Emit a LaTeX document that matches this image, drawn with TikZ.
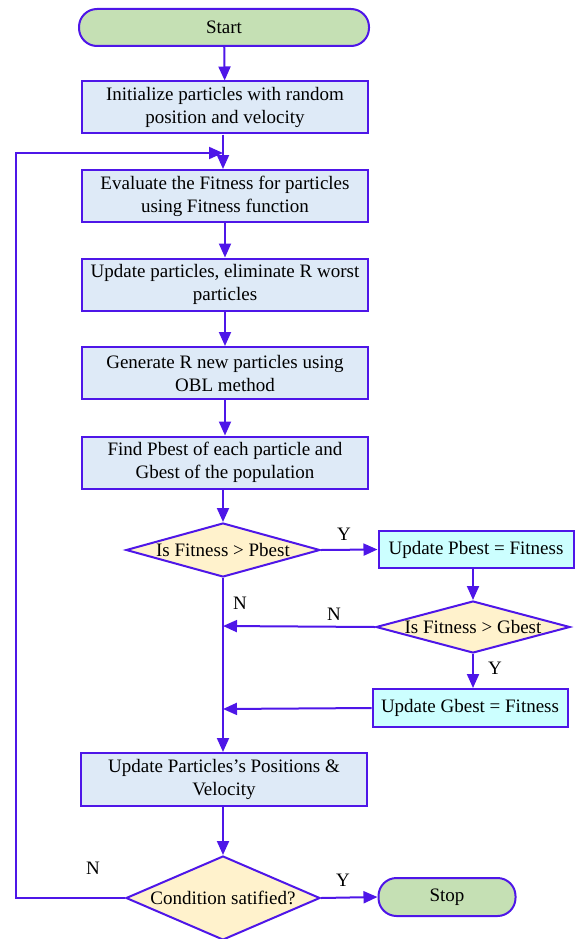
\documentclass[tikz,border=0pt]{standalone}
\usepackage{fontspec}
\setmainfont{Liberation Serif}
\newfontfamily\tnr{Liberation Serif}
\usetikzlibrary{arrows.meta,shapes.geometric}
\definecolor{ln}{RGB}{78,22,232}
\definecolor{bfill}{RGB}{222,234,247}
\definecolor{cfill}{RGB}{204,255,255}
\definecolor{dfill}{RGB}{255,242,204}
\definecolor{gfill}{RGB}{197,224,180}
\tikzset{
  base/.style={draw=ln, line width=2pt, font=\tnr\fontsize{19}{23}\selectfont, align=center, inner sep=0pt},
  procbox/.style={base, rectangle, fill=bfill, minimum width=286pt, minimum height=52pt},
  cyanbox/.style={base, rectangle, fill=cfill, minimum width=195pt, minimum height=37pt},
  termbox/.style={base, rectangle, rounded corners=18pt, fill=gfill},
  decbox/.style={base, diamond, fill=dfill, aspect=3.6},
  arr/.style={draw=ln, line width=2pt, -{Triangle[length=14pt,width=12pt]}},
  lbl/.style={font=\tnr\fontsize{19}{23}\selectfont, inner sep=0pt}
}
\begin{document}
\begin{tikzpicture}[x=1pt,y=-1pt]
\useasboundingbox (0,0) rectangle (574,939);
\node[termbox, minimum width=290pt, minimum height=37pt] (start) at (224,27.5) {Start};
\node[procbox] (init) at (225,107.5) {Initialize particles with random\\position and velocity};
\node[procbox] (eval) at (225,196) {Evaluate the Fitness for particles\\using Fitness function};
\node[procbox] (upd) at (225,284.5) {Update particles, eliminate R worst\\particles};
\node[procbox] (gen) at (225,373) {Generate R new particles using\\OBL method};
\node[procbox] (find) at (225,462.5) {Find Pbest of each particle and\\Gbest of the population};
\node[decbox, minimum width=194pt, minimum height=54pt] (dp) at (223,550) {\makebox[0pt]{Is Fitness > Pbest}};
\node[cyanbox] (up) at (476,549.5) {Update Pbest = Fitness};
\node[decbox, minimum width=194pt, minimum height=52pt] (dg) at (473,627) {\makebox[0pt]{Is Fitness > Gbest}};
\node[cyanbox, minimum height=38pt] (ug) at (470,708) {Update Gbest = Fitness};
\node[procbox, minimum height=53pt] (pos) at (224,779.5) {Update Particles’s Positions \&\\Velocity};
\node[decbox, minimum width=194pt, minimum height=84pt] (cond) at (223,898) {\makebox[0pt]{Condition satified?}};
\node[termbox, minimum width=137pt, minimum height=38pt] (stop) at (447,897) {Stop};

\coordinate (j1) at (223,153);
\coordinate (c1) at (16,898);
\coordinate (c2) at (16,153);
\coordinate (m1) at (223,626);
\coordinate (m2) at (223,709);

\draw[arr] (start) -- (init);
\draw[arr] (init.south -| j1) -- (eval.north -| j1);
\draw[arr] (eval) -- (upd);
\draw[arr] (upd) -- (gen);
\draw[arr] (gen) -- (find);
\draw[arr] (find.south -| dp) -- (dp.north);
\draw[arr] (dp.east) -- (up.west);
\draw[arr] (up.south -| dg) -- (dg.north);
\draw[arr] (dg.west) -- (m1);
\draw[arr] (dg.south) -- (dg.south |- ug.north);
\draw[arr] (ug.west) -- (m2);
\draw[arr] (dp.south) -- (pos.north -| dp);
\draw[arr] (pos.south -| cond) -- (cond.north);
\draw[arr] (cond.east) -- (stop.west);
\draw[arr] (cond.west) -- (c1) -- (c2) -- (j1);

\node[lbl] (y1) at (344,534) {Y};
\node[lbl] (n1) at (240,603) {N};
\node[lbl] (n2) at (334,614) {N};
\node[lbl] (y2) at (495,668) {Y};
\node[lbl] (n3) at (93,868) {N};
\node[lbl] (y3) at (343,880) {Y};
\end{tikzpicture}
\end{document}
